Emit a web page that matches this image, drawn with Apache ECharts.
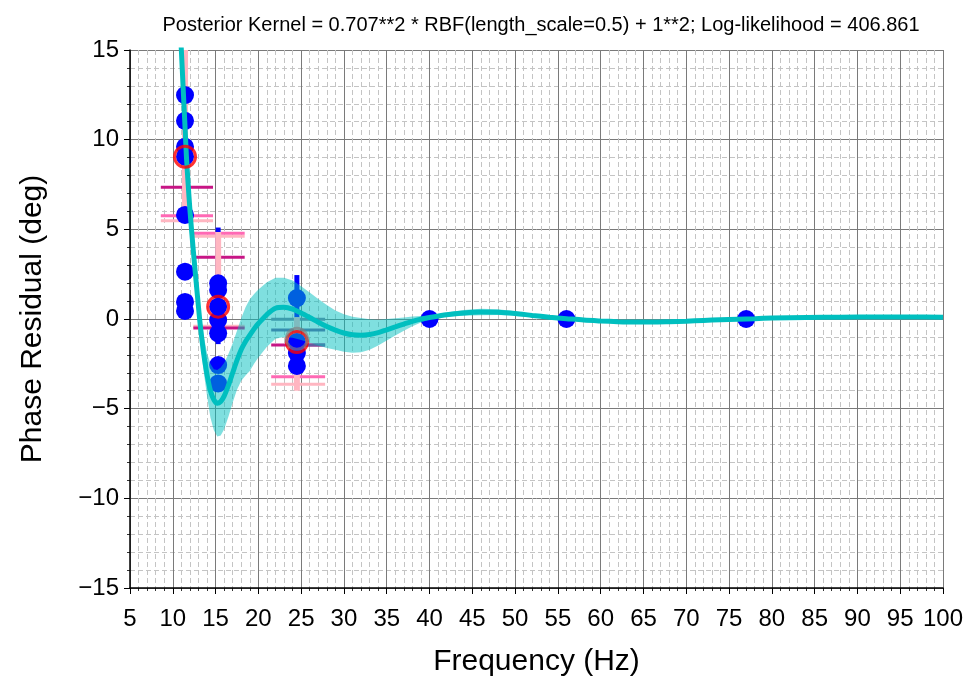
<!DOCTYPE html>
<html><head><meta charset="utf-8">
<script src="https://cdn.jsdelivr.net/npm/echarts@6/dist/echarts.min.js"></script>
<style>html,body{margin:0;padding:0;background:#fff}#c{width:971px;height:677px}</style>
</head><body><div id="c"></div>
<script>
const titleText = 'Posterior Kernel = 0.707**2 * RBF(length_scale=0.5) + 1**2; Log-likelihood = 406.861';
const xName = 'Frequency (Hz)';
const yName = 'Phase Residual (deg)';

// observations
const obsX = [11.43,11.43,11.43,11.43,11.43,11.43,11.43,11.43,
              15.3,15.3,15.3,15.3,15.3,15.3,15.3,
              24.5,24.5,24.5,24.5,
              40,56,77];
const obsY = [12.49,11.05,9.6,9.05,5.8,2.64,0.95,0.45,
              1.99,1.62,0.69,-0.06,-0.8,-2.57,-3.59,
              1.17,-1.28,-1.9,-2.62,
              0,0,0];

// group means
const meanX = [11.43,15.3,24.5];
const meanY = [9.05,0.69,-1.28];
const priorX = [24.5];
const priorY = [-1.1];

// vertical bars [x, low, high]
const pinkBars = [[11.43,6.2,16],[15.3,-0.5,4.85],[24.5,-4.0,0.1]];
const blueBars = [[15.3,-1.4,5.1],[24.5,0.1,2.45]];

// horizontal segments [xStart, xEnd, y]
const magentaSegs = [[8.6,14.7,7.34],[12.4,18.4,3.44],[12.4,18.4,-0.5],[21.5,27.8,-1.45]];
const hotPinkSegs = [[8.6,14.7,5.76],[12.4,18.4,4.78],[21.5,27.8,-3.22]];
const lightPinkSegs = [[8.6,14.7,5.48],[12.4,18.4,4.62],[12.4,18.4,-0.4],[21.5,27.8,-3.64]];
const purpleSegs = [[21.5,27.8,-0.61],[24.5,27.8,-1.45]];
const greyPurpleSegs = [[21.5,27.8,-0.02]];

// posterior curve
const curveX = [10.8,11.0,11.2,11.4,11.6,11.8,12.0,12.4,12.8,13.2,13.6,14.0,14.4,14.8,15.2,15.6,16.0,16.5,17.0,17.5,18.0,18.5,19.0,19.5,20.0,21.0,22.0,23.0,24.0,25.0,26.0,27.0,28.0,29.0,30.0,31.0,32.0,33.0,34.0,35.0,36.0,37.0,38.0,39.0,40.0,42.0,44.0,46.0,48.0,50.0,52.0,54.0,56.0,58.0,60.0,62.0,64.0,66.0,68.0,70.0,72.0,74.0,76.0,78.0,80.0,84.0,88.0,92.0,96.0,100.0];
const curveMean = [17.0,15.0,13.0,11.0,9.0,7.5,6.1,3.8,1.7,-0.3,-1.9,-3.1,-4.0,-4.5,-4.7,-4.6,-4.3,-3.7,-3.0,-2.3,-1.7,-1.25,-0.9,-0.55,-0.25,0.25,0.6,0.65,0.55,0.33,0.08,-0.18,-0.42,-0.62,-0.78,-0.88,-0.9,-0.86,-0.76,-0.6,-0.44,-0.28,-0.13,-0.01,0.08,0.24,0.34,0.39,0.38,0.31,0.2,0.1,0.02,-0.06,-0.11,-0.15,-0.17,-0.17,-0.15,-0.12,-0.08,-0.04,-0.01,0.02,0.05,0.08,0.1,0.11,0.11,0.1];
const curveSigma = [0.5,0.5,0.5,0.5,0.5,0.5,0.5,0.6,0.7,0.8,1.0,1.2,1.5,1.7,1.85,1.9,1.85,1.75,1.65,1.65,1.75,1.9,2.0,1.95,1.9,1.8,1.7,1.65,1.6,1.5,1.4,1.3,1.2,1.1,1.05,1.0,0.95,0.85,0.72,0.6,0.48,0.37,0.27,0.18,0.1,0.12,0.16,0.18,0.16,0.12,0.09,0.07,0.05,0.05,0.05,0.05,0.05,0.05,0.05,0.05,0.05,0.05,0.05,0.05,0.05,0.05,0.05,0.05,0.05,0.05];

const FONT = "'Liberation Sans',Arial,sans-serif";
const fmt = v => (v < 0 ? '\u2212' + Math.abs(v) : String(v));

function segSeries(segs, color, z) {
  return {
    type: 'custom', z: z, silent: true, clip: true,
    data: segs,
    renderItem: function (params, api) {
      const a = api.coord([api.value(0), api.value(2)]);
      const b = api.coord([api.value(1), api.value(2)]);
      return { type: 'line', shape: { x1: a[0], y1: a[1], x2: b[0], y2: b[1] },
               style: { stroke: color, lineWidth: 3 } };
    }
  };
}
function barSeries(bars, color, width, z) {
  return {
    type: 'custom', z: z, silent: true, clip: true,
    data: bars,
    renderItem: function (params, api) {
      const a = api.coord([api.value(0), api.value(1)]);
      const b = api.coord([api.value(0), api.value(2)]);
      return { type: 'line', shape: { x1: a[0], y1: a[1], x2: b[0], y2: b[1] },
               style: { stroke: color, lineWidth: width } };
    }
  };
}

const bandData = curveX.map((x, i) => [x, curveMean[i] - curveSigma[i], curveMean[i] + curveSigma[i]]);

const chart = echarts.init(document.getElementById('c'), null, { renderer: 'canvas' });
chart.setOption({
  animation: false,
  backgroundColor: '#fff',
  title: { text: titleText, left: 536, textAlign: 'center', top: 10,
           textStyle: { fontFamily: FONT, fontSize: 20, fontWeight: 'normal', color: '#000' } },
  grid: { left: 130, right: 28, top: 50, bottom: 89, containLabel: false, outerBoundsMode: 'none' },
  xAxis: {
    type: 'value', min: 5, max: 100, interval: 5,
    name: xName, nameLocation: 'middle', nameGap: 59,
    nameTextStyle: { fontFamily: FONT, fontSize: 30, color: '#000' },
    axisLine: { show: true, onZero: false, lineStyle: { color: '#000', width: 1.5 } },
    axisTick: { show: true, length: 6, lineStyle: { color: '#000', width: 1 } },
    minorTick: { show: true, splitNumber: 5, length: 3, lineStyle: { color: '#000', width: 0.8 } },
    splitLine: { show: true, lineStyle: { color: '#7a7a7a', width: 1 } },
    minorSplitLine: { show: true, lineStyle: { color: '#c4c4c4', width: 1, type: [5, 3] } },
    axisLabel: { fontFamily: FONT, fontSize: 24, color: '#000', margin: 19, formatter: fmt }
  },
  yAxis: {
    type: 'value', min: -15, max: 15, interval: 5,
    name: yName, nameLocation: 'middle', nameGap: 82, nameRotate: 90,
    nameTextStyle: { fontFamily: FONT, fontSize: 30, color: '#000' },
    axisLine: { show: true, onZero: false, lineStyle: { color: '#000', width: 1.5 } },
    axisTick: { show: true, length: 6, lineStyle: { color: '#000', width: 1 } },
    minorTick: { show: true, splitNumber: 5, length: 3, lineStyle: { color: '#000', width: 0.8 } },
    splitLine: { show: true, lineStyle: { color: '#7a7a7a', width: 1 } },
    minorSplitLine: { show: true, lineStyle: { color: '#c4c4c4', width: 1, type: [5, 3] } },
    axisLabel: { fontFamily: FONT, fontSize: 24, color: '#000', margin: 11, formatter: fmt }
  },
  series: [
    segSeries(lightPinkSegs, '#ffb6c1', 3),
    segSeries(hotPinkSegs, '#ff69b4', 3),
    segSeries(magentaSegs, '#c71585', 3),
    segSeries(purpleSegs, '#6a5a9e', 3),
    segSeries(greyPurpleSegs, '#7a7a9a', 3),
    barSeries(blueBars, '#0000ff', 5, 4),
    barSeries(pinkBars, '#ffb6c1', 6, 5),
    { type: 'scatter', z: 6, silent: true,
      data: obsX.map((x, i) => [x, obsY[i]]),
      symbol: 'circle', symbolSize: 18,
      itemStyle: { color: '#0000ff', opacity: 1 } },
    { type: 'custom', z: 7, silent: true, clip: true,
      data: [0],
      renderItem: function (params, api) {
        const up = bandData.map(d => api.coord([d[0], d[2]]));
        const lo = bandData.map(d => api.coord([d[0], d[1]])).reverse();
        return { type: 'polygon', shape: { points: up.concat(lo) },
                 style: { fill: 'rgba(0,191,191,0.5)', stroke: null } };
      } },
    { type: 'line', z: 8, silent: true, clip: true, smooth: 0.3,
      data: curveX.map((x, i) => [x, curveMean[i]]),
      showSymbol: false, symbol: 'none',
      lineStyle: { color: '#00bfbf', width: 5 } },
    { type: 'scatter', z: 9, silent: true,
      data: meanX.map((x, i) => [x, meanY[i]]),
      symbol: 'circle', symbolSize: 21,
      itemStyle: { color: 'rgba(0,0,0,0)', borderColor: '#ff0000', borderWidth: 3 } },
    { type: 'scatter', z: 10, silent: true,
      data: priorX.map((x, i) => [x, priorY[i]]),
      symbol: 'circle', symbolSize: 21,
      itemStyle: { color: 'rgba(0,0,0,0)', borderColor: 'rgba(128,128,128,0.8)', borderWidth: 3 } }
  ]
});
</script></body></html>
